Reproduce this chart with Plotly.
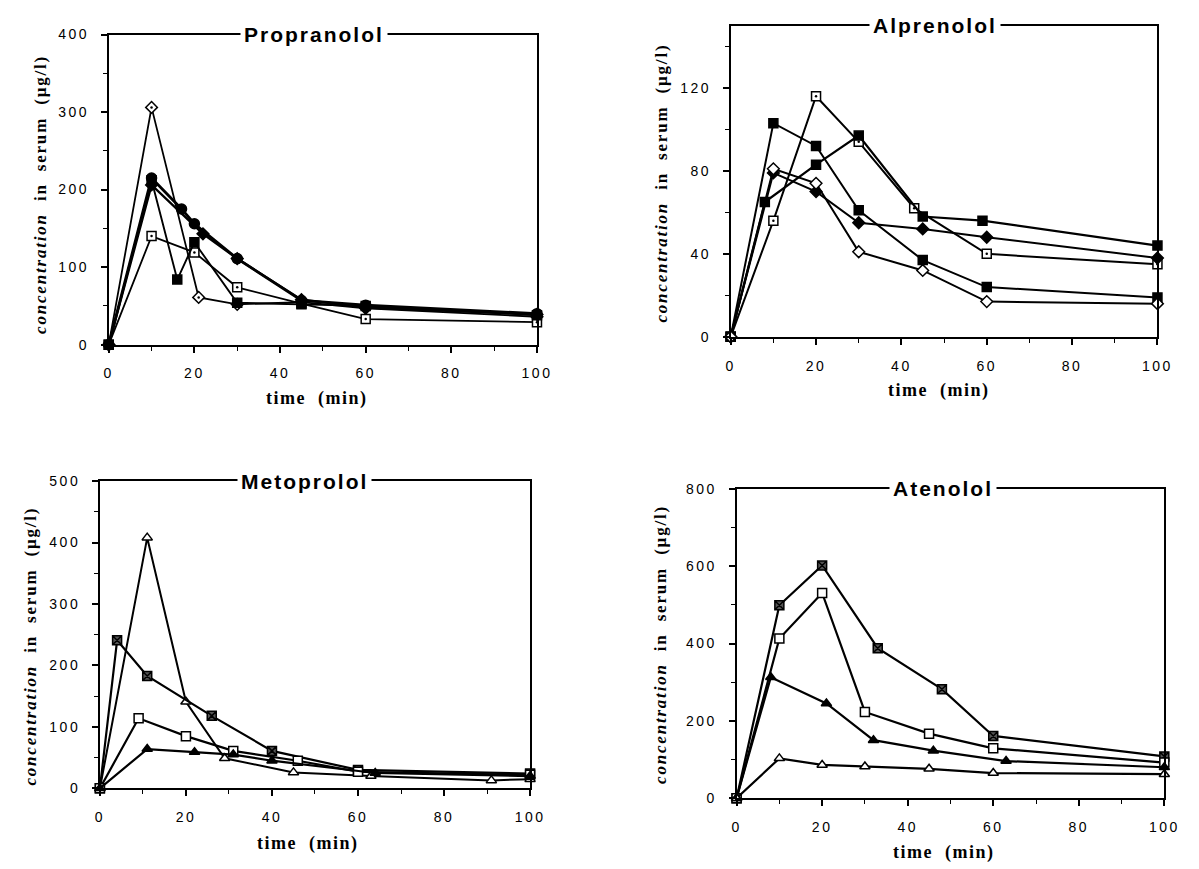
import plotly.graph_objects as go

W, H = 1199, 869

# ---------------- data: time (min) and serum concentration (µg/l) ----------------
# Propranolol
prop_t1 = [0, 10, 21, 30, 45, 60, 100]
prop_c1 = [0, 306, 61, 52, 55, 47, 36]
prop_t2 = [0, 10, 20, 30, 45, 60, 100]
prop_c2 = [0, 140, 119, 74, 53, 33, 29]
prop_t3 = [0, 10, 16, 20, 30, 45, 60, 100]
prop_c3 = [0, 212, 84, 132, 54, 52, 50, 38]
prop_t4 = [0, 10, 17, 20, 30, 45, 60, 100]
prop_c4 = [0, 215, 175, 156, 111, 57, 51, 40]
prop_t5 = [0, 10, 22, 30, 45, 60, 100]
prop_c5 = [0, 206, 143, 111, 58, 48, 39]

# Alprenolol
alp_t1 = [0, 10, 20, 30, 43, 60, 100]
alp_c1 = [0, 56, 116, 94, 62, 40, 35]
alp_t2 = [0, 8, 20, 30, 45, 59, 100]
alp_c2 = [0, 65, 83, 97, 58, 56, 44]
alp_t3 = [0, 10, 20, 30, 45, 60, 100]
alp_c3 = [0, 103, 92, 61, 37, 24, 19]
alp_t4 = [0, 10, 20, 30, 45, 60, 100]
alp_c4 = [0, 79, 70, 55, 52, 48, 38]
alp_t5 = [0, 10, 20, 30, 45, 60, 100]
alp_c5 = [0, 81, 74, 41, 32, 17, 16]

# Metoprolol
met_t1 = [0, 11, 20, 29, 45, 63, 91, 100]
met_c1 = [0, 408, 141, 49, 26, 20, 13, 15]
met_t2 = [0, 4, 11, 26, 40, 60, 100]
met_c2 = [0, 241, 183, 118, 61, 30, 24]
met_t3 = [0, 9, 20, 31, 46, 60, 100]
met_c3 = [0, 114, 85, 61, 45, 27, 22]
met_t4 = [0, 11, 22, 31, 40, 64, 100]
met_c4 = [0, 64, 59, 55, 45, 25, 20]

# Atenolol
ate_t1 = [0, 10, 20, 33, 48, 60, 100]
ate_c1 = [0, 499, 602, 388, 282, 161, 108]
ate_t2 = [0, 10, 20, 30, 45, 60, 100]
ate_c2 = [0, 413, 531, 223, 167, 129, 92]
ate_t3 = [0, 8, 21, 32, 46, 63, 100]
ate_c3 = [0, 313, 245, 150, 123, 96, 80]
ate_t4 = [0, 10, 20, 30, 45, 60, 100]
ate_c4 = [0, 103, 86, 82, 76, 65, 62]

drug_names = ["Propranolol", "Alprenolol", "Metoprolol", "Atenolol"]

# axis ticks and labels
x_tickvals = [0, 20, 40, 60, 80, 100]
x_ticklabels = ["0", "20", "40", "60", "80", "100"]
prop_yticks = [0, 100, 200, 300, 400]
prop_ylabels = ["0", "100", "200", "300", "400"]
alp_yticks = [0, 40, 80, 120]
alp_ylabels = ["0", "40", "80", "120"]
met_yticks = [0, 100, 200, 300, 400, 500]
met_ylabels = ["0", "100", "200", "300", "400", "500"]
ate_yticks = [0, 200, 400, 600, 800]
ate_ylabels = ["0", "200", "400", "600", "800"]

y_ranges = [(0, 400), (0, 150), (0, 500), (0, 800)]
y_minor = [50, 20, 50, 100]
y_ticks = [(prop_yticks, prop_ylabels), (alp_yticks, alp_ylabels),
           (met_yticks, met_ylabels), (ate_yticks, ate_ylabels)]

# ---------------- marker styles ----------------
OPEN_SQ_DOT = dict(symbol="square", fill="white", dot=True)
OPEN_DIA_DOT = dict(symbol="diamond", fill="white", dot=True)
OPEN_DIA = dict(symbol="diamond", fill="white", dot=False)
OPEN_SQ = dict(symbol="square", fill="white", dot=False)
FILL_SQ = dict(symbol="square", fill="black", dot=False)
FILL_CIR = dict(symbol="circle", fill="black", dot=False)
FILL_DIA = dict(symbol="diamond", fill="black", dot=False)
CROSS_SQ = dict(symbol="square-x", fill="#555555", dot=False)
OPEN_TRI = dict(symbol="triangle-up", fill="white", dot=False)
FILL_TRI = dict(symbol="triangle-up", fill="black", dot=False)

panels = [
    [(prop_t1, prop_c1, OPEN_DIA_DOT, 1.8), (prop_t2, prop_c2, OPEN_SQ_DOT, 1.8),
     (prop_t3, prop_c3, FILL_SQ, 1.9), (prop_t4, prop_c4, FILL_CIR, 2.8),
     (prop_t5, prop_c5, FILL_DIA, 2.4)],
    [(alp_t1, alp_c1, OPEN_SQ_DOT, 2.0), (alp_t2, alp_c2, FILL_SQ, 2.2),
     (alp_t3, alp_c3, FILL_SQ, 2.0), (alp_t4, alp_c4, FILL_DIA, 2.0),
     (alp_t5, alp_c5, OPEN_DIA, 2.0)],
    [(met_t1, met_c1, OPEN_TRI, 2.0), (met_t2, met_c2, CROSS_SQ, 2.2),
     (met_t3, met_c3, OPEN_SQ, 2.2), (met_t4, met_c4, FILL_TRI, 2.2)],
    [(ate_t1, ate_c1, CROSS_SQ, 2.2), (ate_t2, ate_c2, OPEN_SQ, 2.2),
     (ate_t3, ate_c3, FILL_TRI, 2.2), (ate_t4, ate_c4, OPEN_TRI, 2.2)],
]

# plot-area boxes in pixels: left, right, top, bottom
boxes = [(105.5, 541, 27, 343), (738, 1172, 18, 335),
         (96.5, 534, 482, 795), (744, 1179, 490, 805)]
title_left = [239, 879, 236, 899]           # left edge of the boxed panel title
ytitle_pos = [(36, 190), (668, 178), (25, 650), (666, 648)]
xtitle_left = [263, 896, 254, 901]          # left edge of the x-axis title
xtitle_y = [398, 390, 851, 860]


def spaced(s, px):
    return '<span style="letter-spacing:%spx">%s</span>' % (px, s)


fig = go.Figure()
annotations = []
gap = "\u00a0\u00a0"

for i, series in enumerate(panels):
    n = "" if i == 0 else str(i + 1)
    xa, ya = "x" + n, "y" + n
    for t, c, st, lw in series:
        fig.add_trace(go.Scatter(
            x=t, y=c, xaxis=xa, yaxis=ya, mode="lines+markers",
            line=dict(color="black", width=lw),
            marker=dict(symbol=st["symbol"], size=9 if st["symbol"] != "circle" else 10,
                        color=st["fill"], line=dict(color="black", width=1.5)),
            cliponaxis=False, showlegend=False, hoverinfo="skip"))
        if st["dot"]:
            fig.add_trace(go.Scatter(
                x=t[1:], y=c[1:], xaxis=xa, yaxis=ya, mode="markers",
                marker=dict(symbol="circle", size=2.5, color="black"),
                cliponaxis=False, showlegend=False, hoverinfo="skip"))

    l, r, tp, bt = boxes[i]
    axis_common = dict(showline=True, linecolor="black", linewidth=1.8, mirror=True,
                       showgrid=False, zeroline=False, ticks="outside", ticklen=6,
                       tickwidth=1.5, tickcolor="black", ticklabelstandoff=9,
                       tickfont=dict(family="Arial", size=14, color="black"))
    yv, yl = y_ticks[i]
    fig.update_layout(**{
        "xaxis" + n: dict(domain=[l / W, r / W], range=[0, 100], anchor=ya,
                          tickmode="array", tickvals=x_tickvals,
                          ticktext=[spaced(s, 2.5) for s in x_ticklabels],
                          minor=dict(tickmode="linear", tick0=0, dtick=10,
                                     ticks="outside", ticklen=4,
                                     tickcolor="black", tickwidth=1.3),
                          **axis_common),
        "yaxis" + n: dict(domain=[1 - bt / H, 1 - tp / H], range=list(y_ranges[i]),
                          anchor=xa, tickmode="array", tickvals=yv,
                          ticktext=[spaced(s, 2.5) for s in yl],
                          minor=dict(tickmode="linear", tick0=0, dtick=y_minor[i],
                                     ticks="outside", ticklen=4,
                                     tickcolor="black", tickwidth=1.3),
                          **axis_common),
    })

    annotations.append(dict(
        x=title_left[i] / W, y=1 - tp / H, xref="paper", yref="paper", showarrow=False,
        text="<b>" + spaced(drug_names[i], 2) + "</b>", bgcolor="white", borderpad=3,
        font=dict(family="Arial", size=21, color="black"),
        xanchor="left", yanchor="middle"))
    yx, yy = ytitle_pos[i]
    annotations.append(dict(
        x=yx / W, y=1 - yy / H, xref="paper", yref="paper", showarrow=False,
        textangle=-90,
        text="<b>" + spaced("<i>concentration</i>" + gap + "in" + gap + "serum" + gap
                            + "(µg/l)", 1.8) + "</b>",
        font=dict(family="Liberation Serif", size=17, color="black"),
        xanchor="center", yanchor="middle"))
    annotations.append(dict(
        x=xtitle_left[i] / W, y=1 - xtitle_y[i] / H, xref="paper", yref="paper",
        showarrow=False,
        text="<b>" + spaced("time" + gap + "(min)", 1.5) + "</b>",
        font=dict(family="Liberation Serif", size=18, color="black"),
        xanchor="left", yanchor="middle"))

fig.update_layout(width=W, height=H, margin=dict(l=0, r=0, t=0, b=0),
                  paper_bgcolor="white", plot_bgcolor="white",
                  annotations=annotations)

fig.write_html("out.html")
